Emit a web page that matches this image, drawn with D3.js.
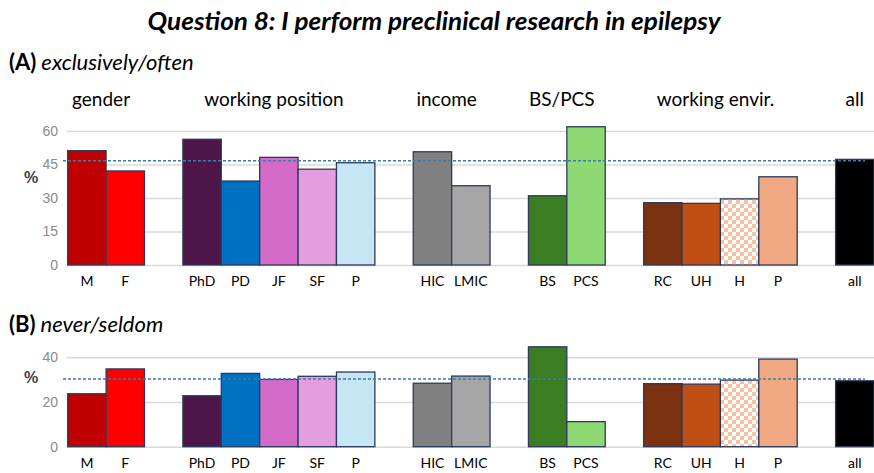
<!DOCTYPE html>
<html>
<head>
<meta charset="utf-8">
<script src="https://cdn.jsdelivr.net/npm/d3@7"></script>
<style>
  body { margin: 0; background: #fff; }
  svg text { font-family: Lato, "Open Sans", sans-serif; }
</style>
</head>
<body>
<div id="chart"></div>
<script>
// data
var groups = ["gender", "working position", "income", "BS/PCS", "working envir.", "all"];
var categories = ["M", "F", "PhD", "PD", "JF", "SF", "P", "HIC", "LMIC", "BS", "PCS", "RC", "UH", "H", "P", "all"];
var groupOf = [0, 0, 1, 1, 1, 1, 1, 2, 2, 3, 3, 4, 4, 4, 4, 5];
var oftenPct = [51.2, 42.1, 56.3, 37.6, 48.2, 42.9, 45.8, 50.7, 35.5, 31.0, 61.9, 27.9, 27.6, 29.6, 39.5, 47.3];
var seldomPct = [23.7, 34.8, 22.8, 32.8, 30.1, 31.5, 33.4, 28.4, 31.6, 44.7, 11.2, 28.2, 28.0, 29.8, 39.2, 29.5];
var overallLine = [46.7, 30.3];
var ticksA = [0, 15, 30, 45, 60];
var ticksB = [0, 20, 40];
var barColors = ["#c00000", "#ff0000", "#4e1548", "#0070c0", "#d46bc8", "#e59edd", "#c6e6f5",
                 "#808080", "#a6a6a6", "#3b7d23", "#8ed973", "#7a3210", "#c04f15", "url(#checker)", "#f1a983", "#000000"];

var W = 874, H = 473;
var svg = d3.select("#chart").append("svg")
    .attr("width", W)
    .attr("height", H);

// checker pattern for the "H" bar
var pat = svg.append("defs").append("pattern")
    .attr("id", "checker")
    .attr("width", 8).attr("height", 8)
    .attr("patternUnits", "userSpaceOnUse");
pat.append("rect").attr("width", 8).attr("height", 8).attr("fill", "#fff");
pat.append("rect").attr("width", 4).attr("height", 4).attr("fill", "#f6c2a4");
pat.append("rect").attr("x", 4).attr("y", 4).attr("width", 4).attr("height", 4).attr("fill", "#f6c2a4");

// slots: one empty slot between groups
var slots = [];
categories.forEach(function(c, i) {
    if (i > 0 && groupOf[i] != groupOf[i - 1]) slots.push("gap" + i);
    slots.push("c" + i);
});

var x = d3.scaleBand()
    .domain(slots)
    .range([67.7, 874])
    .padding(0);

// title
svg.append("text")
    .attr("x", 434).attr("y", 30)
    .attr("text-anchor", "middle")
    .style("font-size", "24px")
    .style("font-weight", "bold")
    .style("font-style", "italic")
    .attr("textLength", 573)
    .attr("lengthAdjust", "spacingAndGlyphs")
    .text("Question 8: I perform preclinical research in epilepsy");

function panel(letter, subtitle, labelY, values, ticks, yTop, yBottom, yMax, lineVal, catY, showGroups) {
    var y = d3.scaleLinear().domain([0, yMax]).range([yBottom, yTop]);

    var head = svg.append("text")
        .attr("x", 9).attr("y", labelY)
        .style("font-size", "22px");
    head.append("tspan").style("font-weight", "bold").text("(" + letter + ")");
    head.append("tspan").attr("dx", 5).style("font-style", "italic").text(subtitle);

    if (showGroups) {
        groups.forEach(function(g, gi) {
            var idx = groupOf.map(function(d, i) { return d == gi ? i : -1; }).filter(function(i) { return i >= 0; });
            var x0 = x("c" + idx[0]), x1 = x("c" + idx[idx.length - 1]) + x.bandwidth();
            svg.append("text")
                .attr("x", (x0 + x1) / 2 - (gi == 5 ? 0 : 5))
                .attr("y", 106)
                .attr("text-anchor", "middle")
                .style("font-size", "19px")
                .text(g);
        });
    }

    var axis = svg.append("g")
        .attr("transform", "translate(67,0)")
        .call(d3.axisLeft(y).tickValues(ticks).tickSize(-(W - 67)).tickPadding(9));
    axis.select(".domain").remove();
    axis.selectAll("line").attr("stroke", "#d9d9d9").attr("stroke-width", 1.5);
    axis.selectAll("text")
        .attr("fill", "#8a8a8a")
        .style("font-family", "Arial, 'Liberation Sans', sans-serif")
        .style("font-size", "14px");

    svg.append("text")
        .attr("x", 31).attr("y", y(ticks[ticks.length - 1]) + (yBottom - yTop) * (showGroups ? 0.39 : 0.29))
        .attr("text-anchor", "middle")
        .style("font-family", "Arial, 'Liberation Sans', sans-serif")
        .style("font-weight", "bold")
        .style("font-size", "16px")
        .attr("fill", "#404040")
        .text("%");

    svg.append("g").selectAll("rect")
        .data(values)
        .join("rect")
        .attr("x", function(d, i) { return x("c" + i); })
        .attr("y", function(d) { return y(d); })
        .attr("width", x.bandwidth())
        .attr("height", function(d) { return y(0) - y(d); })
        .attr("fill", function(d, i) { return barColors[i]; })
        .attr("stroke", "#2c3a5e")
        .attr("stroke-width", 1.3);

    svg.append("line")
        .attr("x1", 63).attr("x2", 865)
        .attr("y1", y(lineVal)).attr("y2", y(lineVal))
        .attr("stroke", "#3a7ea8")
        .attr("stroke-width", 1.5)
        .attr("stroke-dasharray", "3,2");

    svg.append("g").selectAll("text")
        .data(categories)
        .join("text")
        .attr("x", function(d, i) { return x("c" + i) + x.bandwidth() / 2; })
        .attr("y", catY)
        .attr("text-anchor", "middle")
        .style("font-size", "14px")
        .text(function(d) { return d; });
}

panel("A", "exclusively/often", 70, oftenPct, ticksA, 131, 265, 60, overallLine[0], 286, true);
panel("B", "never/seldom", 332, seldomPct, ticksB, 357.3, 446.7, 40, overallLine[1], 468, false);
</script>
</body>
</html>
